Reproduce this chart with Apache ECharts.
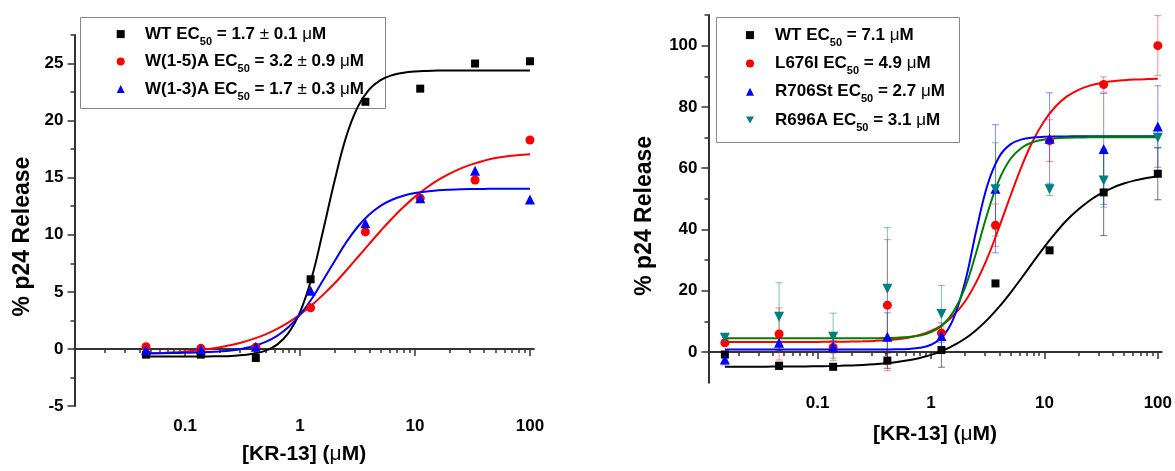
<!DOCTYPE html>
<html><head><meta charset="utf-8">
<script src="https://cdn.jsdelivr.net/npm/echarts@6/dist/echarts.min.js"></script>
<style>html,body{margin:0;padding:0;background:#fff}#c{width:1175px;height:471px}</style>
</head><body><div id="c"></div>
<script>
// ---------- LEFT PANEL DATA ----------
const leftX = [0.0457, 0.137, 0.412, 1.235, 3.70, 11.1, 33.3, 100];
const leftWT = [-0.5, -0.5, -0.8, 6.1, 21.65, 22.8, 25.0, 25.2];
const leftW15A = [0.2, 0.05, 0.15, 3.6, 10.25, 13.2, 14.8, 18.3];
const leftW13A = [-0.1, -0.05, 0.2, 5.1, 11.0, 13.2, 15.6, 13.1];
// fitted curves
const leftFitX = [0.0457, 0.0631, 0.0794, 0.1, 0.126, 0.158, 0.2, 0.251, 0.316, 0.398, 0.501, 0.631, 0.794, 1, 1.26, 1.58, 2, 2.51, 3.16, 3.98, 5.01, 6.31, 7.94, 10, 12.6, 15.8, 20, 25.1, 31.6, 39.8, 50.1, 63.1, 79.4, 100];
const leftFitWT = [-0.67, -0.67, -0.67, -0.67, -0.67, -0.66, -0.64, -0.61, -0.54, -0.41, -0.15, 0.38, 1.40, 3.23, 6.21, 10.29, 14.75, 18.54, 21.16, 22.71, 23.55, 23.98, 24.19, 24.30, 24.35, 24.38, 24.39, 24.4, 24.4, 24.4, 24.4, 24.4, 24.4, 24.4];
const leftFitW15A = [-0.41, -0.35, -0.30, -0.22, -0.13, -0.01, 0.15, 0.34, 0.59, 0.90, 1.28, 1.76, 2.33, 3.01, 3.82, 4.73, 5.75, 6.85, 8.01, 9.18, 10.33, 11.43, 12.43, 13.34, 14.12, 14.79, 15.35, 15.82, 16.19, 16.49, 16.73, 16.88, 16.98, 17.05];
const leftFitW13A = [-0.37, -0.37, -0.36, -0.34, -0.32, -0.28, -0.22, -0.13, 0.02, 0.25, 0.61, 1.14, 1.92, 3.00, 4.37, 5.99, 7.70, 9.31, 10.68, 11.75, 12.53, 13.07, 13.42, 13.65, 13.80, 13.89, 13.95, 13.99, 14.01, 14.02, 14.03, 14.03, 14.04, 14.04];
const leftNames = ['WT', 'W(1-5)A', 'W(1-3)A'];
const leftEC50 = ['1.7 ± 0.1', '3.2 ± 0.9', '1.7 ± 0.3'];
const leftYTicks = [-5, 0, 5, 10, 15, 20, 25];
const leftYMinor = [-2.5, 2.5, 7.5, 12.5, 17.5, 22.5, 27.5];

// ---------- RIGHT PANEL DATA ----------
const rightX = [0.0152, 0.0457, 0.137, 0.412, 1.235, 3.70, 11.1, 33.3, 100];
const rightWT = [-0.8, -4.5, -4.8, -2.8, 0.65, 22.4, 33.2, 52.1, 58.2];
const rightWTErr = [1.0, 1.2, 1.0, 2.5, 5.6, 0, 0, 14.1, 8.5];
const rightL676I = [3.0, 5.9, 1.5, 15.3, 6.2, 41.4, 69.0, 87.3, 100];
const rightL676IErr = [1.0, 8.5, 3.5, 21.4, 2.0, 6.9, 6.8, 2.5, 9.8];
const rightR706St = [-2.4, 3.0, 1.7, 5.0, 5.2, 53.3, 69.6, 66.3, 73.6];
const rightR706StErr = [1.8, 2.5, 2.0, 7.8, 4.3, 20.9, 15.0, 18.1, 13.3];
const rightR696A = [4.7, 11.5, 5.0, 20.7, 12.4, 53.1, 53.1, 56.0, 69.9];
const rightR696AErr = [1.0, 11.1, 7.7, 19.9, 9.3, 15.2, 2.0, 8.7, 3.3];
const rightFitX = [0.0152, 0.02, 0.0251, 0.0316, 0.0398, 0.0501, 0.0631, 0.0794, 0.1, 0.126, 0.158, 0.2, 0.251, 0.316, 0.398, 0.501, 0.631, 0.794, 1, 1.26, 1.58, 2, 2.51, 3.16, 3.98, 5.01, 6.31, 7.94, 10, 12.6, 15.8, 20, 25.1, 31.6, 39.8, 50.1, 63.1, 79.4, 100];
const rightFitWT = [-4.79, -4.78, -4.78, -4.77, -4.75, -4.74, -4.71, -4.68, -4.63, -4.57, -4.48, -4.36, -4.20, -3.98, -3.68, -3.26, -2.70, -1.94, -0.93, 0.41, 2.16, 4.41, 7.23, 10.66, 14.72, 19.30, 24.26, 29.35, 34.32, 38.96, 43.08, 46.60, 49.48, 51.79, 53.60, 54.99, 56.03, 56.82, 57.40];
const rightFitL676I = [3.3, 3.3, 3.3, 3.3, 3.3, 3.3, 3.3, 3.31, 3.32, 3.35, 3.38, 3.43, 3.51, 3.64, 3.84, 4.17, 4.70, 5.54, 6.87, 8.92, 12.03, 16.59, 22.90, 31.0, 40.66, 50.93, 60.69, 69.02, 75.51, 80.22, 83.44, 85.58, 86.95, 87.84, 88.39, 88.73, 88.95, 89.08, 89.16];
const rightFitR706St = [0.8, 0.8, 0.8, 0.8, 0.8, 0.8, 0.8, 0.8, 0.8, 0.8, 0.8, 0.8, 0.8, 0.8, 0.83, 0.88, 1.02, 1.39, 2.39, 4.94, 11.02, 22.98, 39.76, 54.77, 63.69, 67.77, 69.40, 70.03, 70.26, 70.35, 70.38, 70.4, 70.4, 70.4, 70.4, 70.4, 70.4, 70.4, 70.4];
const rightFitR696A = [4.5, 4.5, 4.5, 4.5, 4.5, 4.5, 4.5, 4.5, 4.5, 4.5, 4.5, 4.5, 4.52, 4.54, 4.58, 4.69, 4.91, 5.41, 6.48, 8.73, 13.2, 21.12, 32.68, 45.53, 56.16, 62.99, 66.70, 68.52, 69.38, 69.77, 69.95, 70.03, 70.07, 70.1, 70.1, 70.1, 70.1, 70.1, 70.1];
const rightNames = ['WT', 'L676I', 'R706St', 'R696A'];
const rightEC50 = ['7.1', '4.9', '2.7', '3.1'];
const rightYTicks = [0, 20, 40, 60, 80, 100];
const rightYMinor = [10, 30, 50, 70, 90, 110];

const xMajor = [0.1, 1, 10, 100];
const xMinor = [0.02, 0.03, 0.04, 0.05, 0.06, 0.07, 0.08, 0.09,
  0.2, 0.3, 0.4, 0.5, 0.6, 0.7, 0.8, 0.9,
  2, 3, 4, 5, 6, 7, 8, 9,
  20, 30, 40, 50, 60, 70, 80, 90];

// ---------- HELPERS ----------
const FONT = '"Liberation Sans", Arial, sans-serif';
const AX = '#333';
const pairs = (xs, ys) => xs.map((x, i) => [x, ys[i]]);

function makeRich(pad) {
  return {
    p: { fontFamily: FONT, fontWeight: 'bold', fontSize: 17, color: '#000', lineHeight: 26, padding: [0, 0, 0, pad] },
    b: { fontFamily: FONT, fontWeight: 'bold', fontSize: 17, color: '#000', lineHeight: 26 },
    n: { fontFamily: FONT, fontWeight: 'normal', fontSize: 17, color: '#000', lineHeight: 26 },
    s: { fontFamily: FONT, fontWeight: 'bold', fontSize: 11, color: '#000', lineHeight: 12, verticalAlign: 'bottom' }
  };
}
function richLabel(name, ec) {
  const val = ec.split('±').map(t => '{b|' + t + '}').join('{n|±}');
  return '{p|' + name + ' EC}{s|50}{b| = }' + val + '{b| }{n|μ}{b|M}';
}
const labelMap = {};

function xAxes(grid, min, max, gap) {
  const base = { type: 'log', logBase: 10, gridIndex: grid, min: min, max: max, position: 'bottom', splitLine: { show: false } };
  return [
    Object.assign({}, base, {
      axisLine: { show: true, lineStyle: { color: AX, width: 2 } },
      axisTick: { show: true, inside: false, length: 7, customValues: xMajor, lineStyle: { color: AX, width: 1.5 } },
      axisLabel: { show: true, customValues: xMajor, margin: 12, formatter: v => String(+(+v).toPrecision(3)),
        fontFamily: FONT, fontWeight: 'bold', fontSize: 17, color: '#000' },
      name: '{b|[KR-13] (}{n|μ}{b|M)}', nameLocation: 'middle', nameGap: gap,
      nameTextStyle: { rich: {
        b: { fontFamily: FONT, fontWeight: 'bold', fontSize: 21, color: '#000' },
        n: { fontFamily: FONT, fontWeight: 'normal', fontSize: 21, color: '#000' } } }
    }),
    Object.assign({}, base, {
      axisLine: { show: false },
      axisTick: { show: true, inside: false, length: 4, customValues: xMinor, lineStyle: { color: AX, width: 1.5 } },
      axisLabel: { show: false }
    })
  ];
}
function yAxes(grid, min, max, major, minor, gap, shift) {
  const base = { type: 'value', gridIndex: grid, min: min, max: max, position: 'left', splitLine: { show: false } };
  return [
    Object.assign({}, base, {
      axisLine: { show: true, lineStyle: { color: AX, width: 2 } },
      axisTick: { show: true, inside: false, length: 7, customValues: major, lineStyle: { color: AX, width: 1.5 } },
      axisLabel: { show: true, customValues: major, margin: 11, fontFamily: FONT, fontWeight: 'bold', fontSize: 17, color: '#000' },
      name: '% p24 Release', nameLocation: 'middle', nameGap: gap,
      nameTextStyle: { fontFamily: FONT, fontWeight: 'bold', fontSize: 23, color: '#000', padding: [0, shift, 0, 0] }
    }),
    Object.assign({}, base, {
      axisLine: { show: false },
      axisTick: { show: true, inside: false, length: 4, customValues: minor, lineStyle: { color: AX, width: 1.5 } },
      axisLabel: { show: false }
    })
  ];
}

function fitSeries(xi, xs, ys, color) {
  return { type: 'line', xAxisIndex: xi, yAxisIndex: xi, data: pairs(xs, ys), symbol: 'none', showSymbol: false,
    smooth: 0.4, silent: true, z: 3, lineStyle: { color: color, width: 2 }, itemStyle: { color: color } };
}
function pointSeries(xi, name, xs, ys, symbol, size, color) {
  return { type: 'scatter', name: name, xAxisIndex: xi, yAxisIndex: xi, data: pairs(xs, ys), symbol: symbol,
    symbolSize: size, z: 5, itemStyle: { color: color, opacity: 1 } };
}
function errSeries(xi, xs, ys, es, color) {
  return { type: 'custom', xAxisIndex: xi, yAxisIndex: xi, silent: true, z: 2,
    data: xs.map((x, i) => [x, ys[i], es[i]]).filter(d => d[2] > 0),
    encode: { x: 0, y: 1 },
    renderItem: function (params, api) {
      const x = api.value(0), y = api.value(1), e = api.value(2);
      const p1 = api.coord([x, y + e]), p2 = api.coord([x, y - e]);
      const w = 3.5, st = { stroke: color, lineWidth: 1 };
      return { type: 'group', children: [
        { type: 'line', shape: { x1: p1[0], y1: p1[1], x2: p2[0], y2: p2[1] }, style: st },
        { type: 'line', shape: { x1: p1[0] - w, y1: p1[1], x2: p1[0] + w, y2: p1[1] }, style: st },
        { type: 'line', shape: { x1: p2[0] - w, y1: p2[1], x2: p2[0] + w, y2: p2[1] }, style: st }
      ] };
    } };
}

// ---------- SERIES ----------
const colL = ['#000000', '#ff0000', '#0000ff'];
const symL = ['rect', 'circle', 'triangle'];
const sizeL = [8, 9, 10];
const leftPts = [leftWT, leftW15A, leftW13A];
const leftFits = [leftFitWT, leftFitW15A, leftFitW13A];

const colR = ['#000000', '#ff0000', '#0000ff', '#008080'];
const fitColR = ['#000000', '#ff0000', '#0000ff', '#008000'];
const errColR = ['rgba(0,0,0,0.55)', 'rgba(255,0,0,0.45)', 'rgba(0,0,255,0.45)', 'rgba(0,128,128,0.5)'];
const symR = ['rect', 'circle', 'triangle', 'path://M0,0L10,0L5,9Z'];
const sizeR = [8, 9, 10, 10];
const rightPts = [rightWT, rightL676I, rightR706St, rightR696A];
const rightErrs = [rightWTErr, rightL676IErr, rightR706StErr, rightR696AErr];
const rightFits = [rightFitWT, rightFitL676I, rightFitR706St, rightFitR696A];

const series = [];
const leftLegend = [], rightLegend = [];
leftNames.forEach((n, i) => {
  const key = 'L:' + n; leftLegend.push(key); labelMap[key] = richLabel(n, leftEC50[i]);
  series.push(fitSeries(0, leftFitX, leftFits[i], colL[i]));
});
leftNames.forEach((n, i) => series.push(pointSeries(0, 'L:' + n, leftX, leftPts[i], symL[i], sizeL[i], colL[i])));
rightNames.forEach((n, i) => {
  const key = 'R:' + n; rightLegend.push(key); labelMap[key] = richLabel(n, rightEC50[i]);
  series.push(errSeries(2, rightX, rightPts[i], rightErrs[i], errColR[i]));
  series.push(fitSeries(2, rightFitX, rightFits[i], fitColR[i]));
});
rightNames.forEach((n, i) => series.push(pointSeries(2, 'R:' + n, rightX, rightPts[i], symR[i], sizeR[i], colR[i])));

const legendBase = { orient: 'vertical', padding: 0, selectedMode: false, itemWidth: 8, itemHeight: 8,
  formatter: n => labelMap[n] };

const option = {
  animation: false,
  backgroundColor: '#ffffff',
  textStyle: { fontFamily: FONT },
  grid: [
    { left: 74.5, top: 35, width: 459.3, height: 371 },
    { left: 708.5, top: 15, width: 456.5, height: 367.7 }
  ],
  xAxis: [].concat(xAxes(0, 0.0109, 108, 38), xAxes(1, 0.0109, 108, 41)),
  yAxis: [].concat(yAxes(0, -5, 27.5, leftYTicks, leftYMinor, 40, 32), yAxes(1, -10, 110, rightYTicks, rightYMinor, 52, 34)),
  legend: [
    Object.assign({}, legendBase, { data: leftLegend, left: 116.7, top: 25.6, itemGap: 6, textStyle: { rich: makeRich(15.3) } }),
    Object.assign({}, legendBase, { data: rightLegend, left: 746, top: 26.6, itemGap: 6.8, textStyle: { rich: makeRich(16) } })
  ],
  graphic: [
    { type: 'rect', left: 78, top: 15, z: 0, silent: true, shape: { width: 305, height: 91 }, style: { fill: 'none', stroke: '#888', lineWidth: 1 } },
    { type: 'rect', left: 714, top: 15, z: 0, silent: true, shape: { width: 243, height: 125 }, style: { fill: 'none', stroke: '#888', lineWidth: 1 } }
  ],
  series: series
};
const chart = echarts.init(document.getElementById('c'), null, { renderer: 'canvas' });
chart.setOption(option);
</script></body></html>
